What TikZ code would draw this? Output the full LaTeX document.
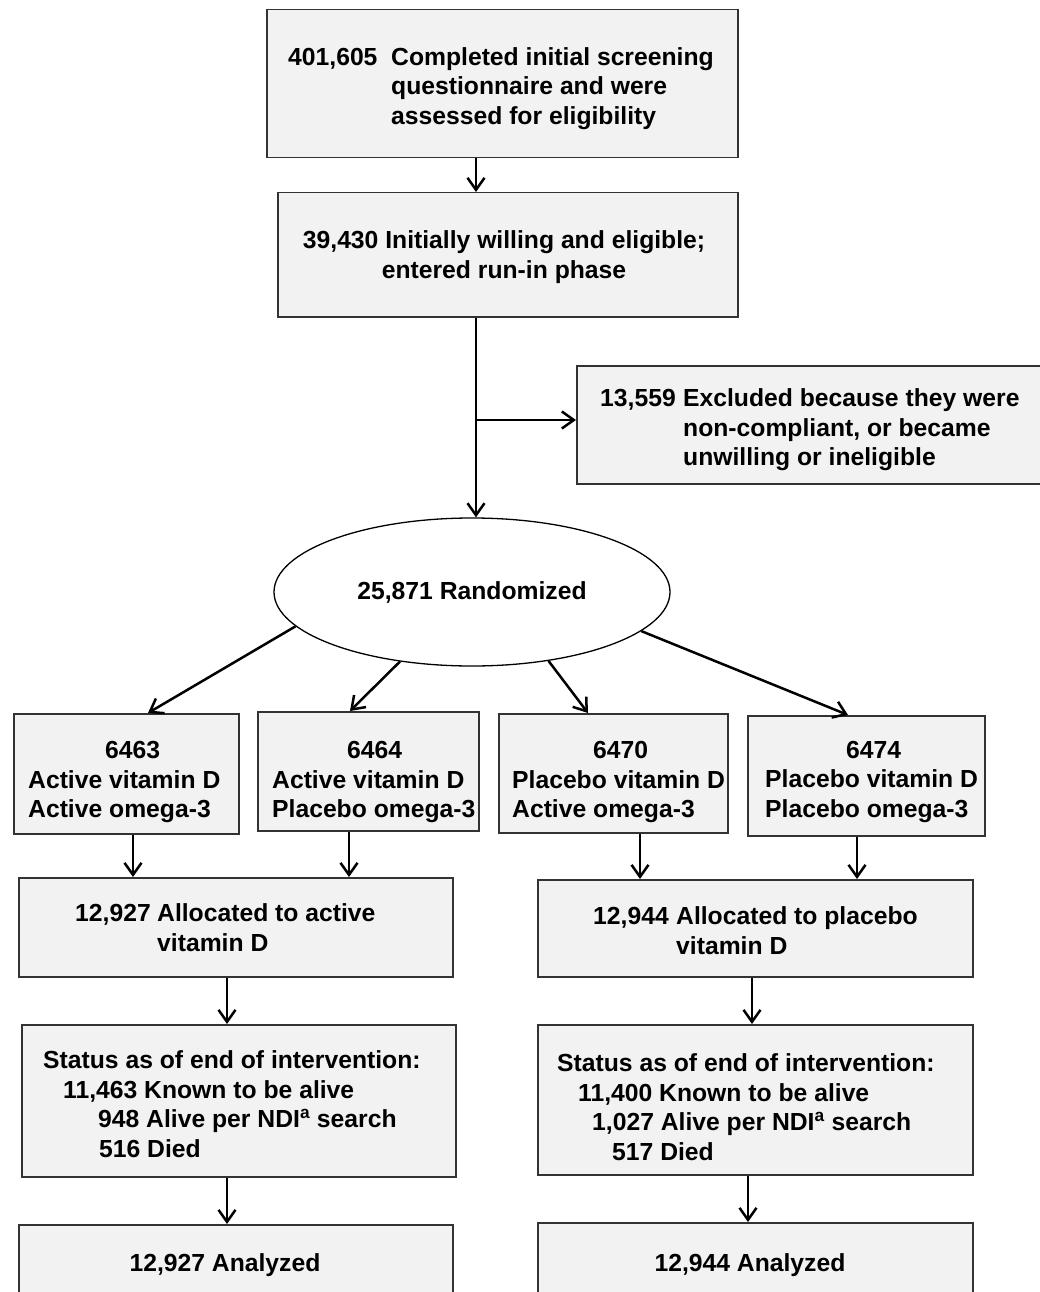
\documentclass[tikz,border=0pt]{standalone}
\usepackage{fontspec}
\setmainfont{Liberation Sans}
\usetikzlibrary{arrows.meta,shapes.geometric}
\definecolor{boxfill}{HTML}{F2F2F2}
\definecolor{boxline}{HTML}{333333}
\newcommand{\txtblock}[1]{\begin{tabular}[t]{@{}l@{}}#1\end{tabular}}
\newcommand{\ctrblock}[1]{\begin{tabular}[t]{@{}c@{}}#1\end{tabular}}
\begin{document}
\begin{tikzpicture}[x=1pt,y=-1pt,
  box/.style={draw=boxline, line width=1.5pt, fill=boxfill, inner sep=0pt, anchor=north west},
  txt/.style={inner sep=0pt, anchor=base west, font=\bfseries\fontsize{24.7}{29.5}\selectfont},
  ctxt/.style={txt, anchor=base},
  arr/.style={line width=2.5pt, -{Straight Barb[length=12pt,width=17pt]}}
]
\path[use as bounding box] (0,0) rectangle (1040,1292);
\clip (0,0) rectangle (1040,1292);

% connector x positions
\coordinate (spine) at (476,0);
\coordinate (br) at (0,420);
\coordinate (x1) at (133,0);
\coordinate (x2) at (349,0);
\coordinate (x3) at (640,0);
\coordinate (x4) at (857,0);
\coordinate (xl) at (227,0);
\coordinate (xr) at (752,0);
\coordinate (xr2) at (748,0);
\coordinate (d1) at (148,0);
\coordinate (d2) at (350,0);
\coordinate (d3) at (588,0);
\coordinate (d4) at (848,0);

% top boxes
\node[box, minimum width=471pt, minimum height=148pt] (n1) at (266,9) {};
\node[txt] (n1t) at (288,65.5) {\txtblock{\makebox[103pt][l]{401,605}Completed initial screening\\
  \hspace*{103pt}questionnaire and were\\
  \hspace*{103pt}assessed for eligibility}};

\node[box, minimum width=460pt, minimum height=124pt] (n2) at (277,192) {};
\node[ctxt] (n2t) at (504,248.5) {\ctrblock{39,430 Initially willing and eligible;\\entered run-in phase}};

\node[box, minimum width=474pt, minimum height=118pt] (excl) at (576,365) {};
\node[txt] (exclt) at (600,406.5) {\txtblock{\makebox[83pt][l]{13,559}Excluded because they were\\
  \hspace*{83pt}non-compliant, or became\\
  \hspace*{83pt}unwilling or ineligible}};

\node[ellipse, draw=black, line width=1.3pt, fill=white, minimum width=396pt, minimum height=148pt,
  inner sep=0pt, font=\bfseries\fontsize{24.7}{29.5}\selectfont] (rand) at (472,592) {25,871 Randomized};

% four arms
\node[box, minimum width=225pt, minimum height=120pt] (a1) at (13,713) {};
\node[txt] (a1t) at (28,758.5) {\txtblock{\hspace*{77pt}6463\\Active vitamin D\\Active omega-3}};

\node[box, minimum width=221pt, minimum height=119pt] (a2) at (257,711) {};
\node[txt] (a2t) at (272,758.5) {\txtblock{\hspace*{75pt}6464\\Active vitamin D\\Placebo omega-3}};

\node[box, minimum width=229pt, minimum height=119pt] (a3) at (498,713) {};
\node[txt] (a3t) at (512,758.5) {\txtblock{\hspace*{81pt}6470\\Placebo vitamin D\\Active omega-3}};

\node[box, minimum width=237pt, minimum height=120pt] (a4) at (747,715) {};
\node[txt] (a4t) at (765,758) {\txtblock{\hspace*{81pt}6474\\Placebo vitamin D\\Placebo omega-3}};

% allocation
\node[box, minimum width=434pt, minimum height=99pt] (alL) at (18,877) {};
\node[txt] (alLt) at (75,921.5) {\txtblock{\makebox[82pt][l]{12,927}Allocated to active\\\hspace*{82pt}vitamin D}};

\node[box, minimum width=435pt, minimum height=97pt] (alR) at (537,879) {};
\node[txt] (alRt) at (593,924.5) {\txtblock{\makebox[83pt][l]{12,944}Allocated to placebo\\\hspace*{83pt}vitamin D}};

% status
\node[box, minimum width=434pt, minimum height=152pt] (stL) at (21,1024) {};
\node[txt] (stLt) at (43,1068.5) {\txtblock{Status as of end of intervention:\\
  \hspace*{20pt}11,463 Known to be alive\\
  \hspace*{55pt}948 Alive per NDI\textsuperscript{a} search\\
  \hspace*{56pt}516 Died}};

\node[box, minimum width=435pt, minimum height=150pt] (stR) at (537,1024) {};
\node[txt] (stRt) at (557,1071.5) {\txtblock{Status as of end of intervention:\\
  \hspace*{21pt}11,400 Known to be alive\\
  \hspace*{35pt}1,027 Alive per NDI\textsuperscript{a} search\\
  \hspace*{55pt}517 Died}};

% analyzed
\node[box, minimum width=434pt, minimum height=110pt] (anL) at (18,1224) {};
\node[ctxt] (anLt) at (225,1271.5) {12,927 Analyzed};

\node[box, minimum width=435pt, minimum height=110pt] (anR) at (537,1222) {};
\node[ctxt] (anRt) at (750,1271.5) {12,944 Analyzed};

% connectors
\draw[arr] (n1.south -| spine) -- (n2.north -| spine);
\draw[arr] (n2.south -| spine) -- (rand.north -| spine);
\draw[arr] (br -| spine) -- (br -| excl.west);

\draw[arr] (rand.191.4) -- (a1.north -| d1);
\draw[arr] (rand.224.6) -- (a2.north -| d2);
\draw[arr] (rand.318) -- (a3.north -| d3);
\draw[arr] (rand.347.2) -- (a4.north -| d4);

\draw[arr] (a1.south -| x1) -- (alL.north -| x1);
\draw[arr] (a2.south -| x2) -- (alL.north -| x2);
\draw[arr] (a3.south -| x3) -- (alR.north -| x3);
\draw[arr] (a4.south -| x4) -- (alR.north -| x4);

\draw[arr] (alL.south -| xl) -- (stL.north -| xl);
\draw[arr] (stL.south -| xl) -- (anL.north -| xl);
\draw[arr] (alR.south -| xr) -- (stR.north -| xr);
\draw[arr] (stR.south -| xr2) -- (anR.north -| xr2);
\end{tikzpicture}
\end{document}
